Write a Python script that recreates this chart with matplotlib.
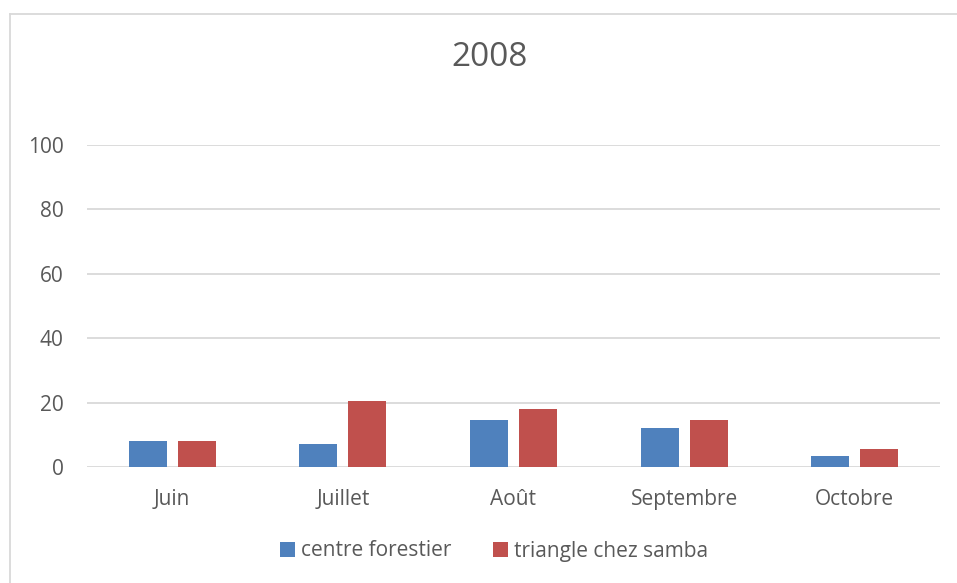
import numpy as np
import matplotlib
matplotlib.use('Agg')
import matplotlib.pyplot as plt
from matplotlib.lines import Line2D

# Données
mois = ['Juin', 'Juillet', 'Août', 'Septembre', 'Octobre']
centre_forestier = [8.0, 7.1, 14.6, 12.0, 3.3]
triangle_samba = [8.0, 20.6, 17.9, 14.7, 5.5]
yticks = [0, 20, 40, 60, 80, 100]

plt.rcParams['font.family'] = ['Open Sans', 'DejaVu Sans']
txt = '#595959'
bleu = '#4F81BD'
rouge = '#C0504D'

fig = plt.figure(figsize=(9.57, 5.83), dpi=100)
ax = fig.add_axes([87 / 957, 116 / 583, 853 / 957, 322 / 583])

x = np.arange(len(mois))
w = 0.223
ax.bar(x - 0.144, centre_forestier, w, color=bleu, label='centre forestier', zorder=3)
ax.bar(x + 0.144, triangle_samba, w, color=rouge, label='triangle chez samba', zorder=3)

ax.set_xlim(-0.5, len(mois) - 0.5)
ax.set_ylim(0, 100)
ax.set_yticks(yticks)
ax.set_xticks(x)
ax.set_xticklabels(mois)
ax.tick_params(axis='both', length=0, labelsize=15, colors=txt)
ax.tick_params(axis='y', pad=17)
ax.tick_params(axis='x', pad=16)
ax.grid(axis='y', color='#D9D9D9', linewidth=1.3, zorder=0)
for s in ax.spines.values():
    s.set_visible(False)

fig.text(490 / 957, 1 - 57 / 583, '2008', ha='center', va='center', fontsize=24, color=txt)

leg = fig.legend(loc='center', bbox_to_anchor=(494 / 957, 1 - 551 / 583), ncol=2, frameon=False,
                 fontsize=15, handlelength=0.7, handleheight=0.7, handletextpad=0.3,
                 columnspacing=2.0)
for t in leg.get_texts():
    t.set_color(txt)

# cadre du graphique
fig.add_artist(Line2D([10 / 957, 10 / 957], [0, 1 - 14 / 583], transform=fig.transFigure,
                      color='#D9D9D9', linewidth=1.3))
fig.add_artist(Line2D([10 / 957, 1], [1 - 14 / 583, 1 - 14 / 583], transform=fig.transFigure,
                      color='#D9D9D9', linewidth=1.3))

fig.savefig('out.png', dpi=100)
